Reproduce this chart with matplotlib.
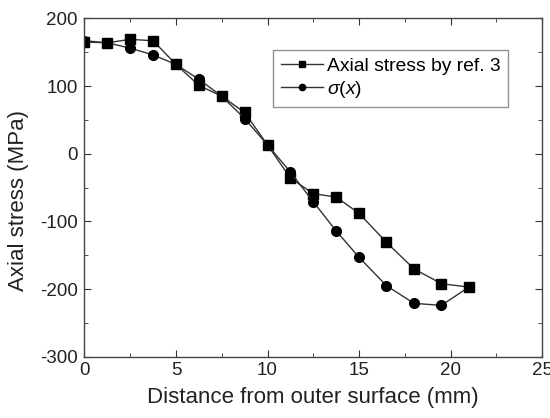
import matplotlib
matplotlib.use("Agg")
import matplotlib.pyplot as plt
from matplotlib.ticker import MultipleLocator

plt.rcParams['font.family'] = ['Liberation Sans', 'DejaVu Sans']
plt.rcParams['mathtext.fontset'] = 'custom'
plt.rcParams['mathtext.it'] = 'Liberation Sans:italic'
plt.rcParams['mathtext.rm'] = 'Liberation Sans'
plt.rcParams['axes.unicode_minus'] = False

x_pos = [0, 1.25, 2.5, 3.75, 5, 6.25, 7.5, 8.75, 10, 11.25, 12.5, 13.75, 15, 16.5, 18, 19.5, 21]
ref3_stress = [165, 164, 169, 167, 132, 101, 85, 61, 13, -36, -59, -64, -88, -131, -170, -192, -197]
sigma_x = [167, 164, 156, 146, 132, 110, 85, 52, 13, -27, -71, -114, -153, -195, -221, -224, -197]

x_label = "Distance from outer surface (mm)"
y_label = "Axial stress (MPa)"
legend_labels = ["Axial stress by ref. 3", r"$\sigma$($x$)"]

fig = plt.figure(figsize=(5.5, 4.18), dpi=100)
ax = fig.add_axes([0.1536, 0.1464, 0.832, 0.8096])

ax.plot(x_pos, ref3_stress, color='#333333', lw=1.0, marker='s', ms=6.5,
        mfc='black', mec='black', label=legend_labels[0])
ax.plot(x_pos, sigma_x, color='#333333', lw=1.0, marker='o', ms=7,
        mfc='black', mec='black', label=legend_labels[1])

ax.set_xlim(0, 25)
ax.set_ylim(-300, 200)
ax.xaxis.set_major_locator(MultipleLocator(5))
ax.xaxis.set_minor_locator(MultipleLocator(2.5))
ax.yaxis.set_major_locator(MultipleLocator(100))
ax.yaxis.set_minor_locator(MultipleLocator(50))
ax.tick_params(which='both', direction='in', top=True, right=True, colors='#333333',
               labelcolor='#222222', labelsize=13.5)
ax.tick_params(axis='y', which='major', pad=5)
ax.tick_params(which='major', length=5)
ax.tick_params(which='minor', length=3)
for s in ax.spines.values():
    s.set_color('#444444')
    s.set_linewidth(1.0)

ax.set_xlabel(x_label, fontsize=16, color='#222222', labelpad=6)
ax.set_ylabel(y_label, fontsize=16, color='#222222')
ax.yaxis.set_label_coords(-0.122, 0.463)

leg = ax.legend(loc='upper left', bbox_to_anchor=(0.4127, 0.906), borderaxespad=0,
                fontsize=13.9, frameon=True, fancybox=False, handlelength=2.2,
                handletextpad=0.2, borderpad=0.38, labelspacing=0.18, markerscale=0.65)
leg.get_frame().set_edgecolor('#777777')
leg.get_frame().set_linewidth(1.0)

fig.savefig("out.png", dpi=100)
